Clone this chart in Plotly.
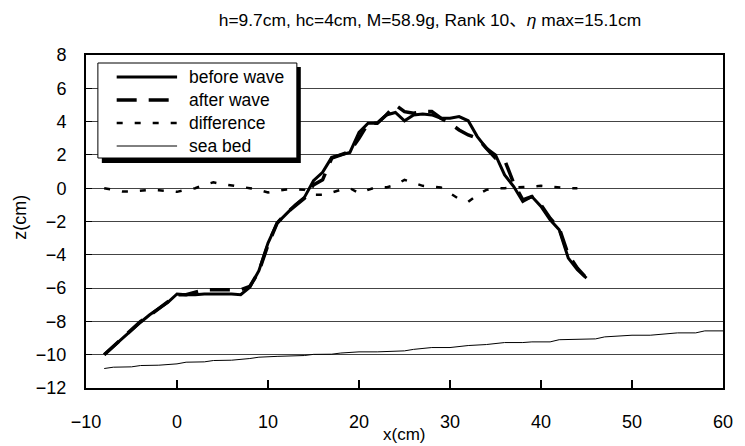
import plotly.graph_objects as go

# ---------------- data ----------------
x_profile = list(range(-8, 46))
before_wave = [-10.0, -9.5, -9.0, -8.5, -8.05, -7.6, -7.2, -6.85, -6.35, -6.4,
               -6.4, -6.35, -6.35, -6.35, -6.35, -6.4, -5.95, -4.95, -3.3, -2.1,
               -1.55, -1.0, -0.55, 0.45, 0.95, 1.85, 2.0, 2.15, 3.35, 3.9,
               3.9, 4.4, 4.55, 4.05, 4.4, 4.45, 4.4, 4.2, 4.2, 4.3,
               4.05, 3.1, 2.4, 2.0, 0.8, 0.1, -0.8, -0.5, -1.1, -1.9,
               -2.5, -4.2, -4.9, -5.4]
after_wave = [-10.0, -9.5, -9.0, -8.5, -8.0, -7.65, -7.25, -6.85, -6.4, -6.4,
              -6.25, -6.1, -6.1, -6.1, -6.1, -6.1, -5.9, -5.0, -3.4, -2.1,
              -1.5, -1.05, -0.6, 0.2, 0.5, 1.8, 2.0, 2.2, 3.0, 3.9,
              3.9, 4.4, 5.0, 4.6, 4.5, 4.6, 4.6, 4.2, 3.9, 3.5,
              3.2, 3.0, 2.4, 1.8, 1.7, 0.3, -0.7, -0.5, -1.0, -1.8,
              -2.4, -4.0, -4.8, -5.4]
x_diff = list(range(-8, 45))
difference = [0.0, -0.1, -0.2, -0.2, -0.15, -0.1, -0.12, -0.15, -0.22, -0.1,
              0.0, 0.2, 0.35, 0.25, 0.18, 0.1, 0.0, -0.1, -0.26, -0.15,
              -0.08, -0.07, -0.1, -0.4, -0.4, -0.26, -0.1, 0.0, -0.3, -0.1,
              0.08, 0.05, 0.2, 0.5, 0.3, 0.14, 0.1, 0.04, -0.3, -0.65,
              -0.82, -0.4, -0.1, 0.0, 0.0, 0.02, 0.04, 0.1, 0.14, 0.08,
              0.02, 0.0, 0.0]
x_seabed = [-8, -7, -5, -4, -2, 0, 1, 3, 4, 6, 8, 9, 11, 14, 15, 17, 18, 20, 22,
            25, 26, 28, 30, 32, 34, 36, 38, 39, 41, 42, 46, 47, 50, 52, 55, 57, 58, 60]
seabed = [-10.83, -10.75, -10.73, -10.65, -10.63, -10.55, -10.45, -10.43, -10.35,
          -10.33, -10.23, -10.15, -10.1, -10.05, -9.98, -9.97, -9.9, -9.83, -9.83,
          -9.77, -9.68, -9.57, -9.57, -9.45, -9.39, -9.27, -9.27, -9.23, -9.23,
          -9.1, -9.05, -8.93, -8.83, -8.83, -8.69, -8.69, -8.57, -8.57]

series_names = ["before wave", "after wave", "difference", "sea bed"]
x_ticks = [-10, 0, 10, 20, 30, 40, 50, 60]
y_ticks = [8, 6, 4, 2, 0, -2, -4, -6, -8, -10, -12]
title_text = "h=9.7cm, hc=4cm, M=58.9g, Rank 10、<i>η</i> max=15.1cm"

# ---------------- styles ----------------
FONT = "Liberation Sans, Arial, Noto Sans CJK JP, sans-serif"
styles = [dict(color="black", width=3, dash="solid"),
          dict(color="black", width=3.5, dash="20px,12px"),
          dict(color="black", width=2.5, dash="6px,12px"),
          dict(color="black", width=1, dash="solid")]

W, H = 745, 446
L, R, T, B = 86, 15.5, 55, 58
pw, ph = W - L - R, H - T - B

def px2paper(px, py):
    return (px - L) / pw, (H - B - py) / ph

fig = go.Figure()
fig.add_trace(go.Scatter(x=x_seabed, y=seabed, mode="lines", line=styles[3], name=series_names[3]))
fig.add_trace(go.Scatter(x=x_diff, y=difference, mode="lines", line=styles[2], name=series_names[2]))
fig.add_trace(go.Scatter(x=x_profile, y=after_wave, mode="lines", line=styles[1], name=series_names[1]))
fig.add_trace(go.Scatter(x=x_profile, y=before_wave, mode="lines", line=styles[0], name=series_names[0]))

shapes = []
annotations = []
# legend box with shadow
x0, y0 = px2paper(102, 163)
x1, y1 = px2paper(303, 67)
shapes.append(dict(type="rect", xref="paper", yref="paper", x0=x0, y0=y0, x1=x1, y1=y1,
                   fillcolor="black", line=dict(width=0), layer="above"))
x0, y0 = px2paper(98, 158)
x1, y1 = px2paper(299, 63)
shapes.append(dict(type="rect", xref="paper", yref="paper", x0=x0, y0=y0, x1=x1, y1=y1,
                   fillcolor="white", line=dict(color="black", width=1), layer="above"))
rows = [77, 100, 123, 146]
for name, st, ry in zip(series_names, styles, rows):
    lx0, ly = px2paper(117, ry)
    lx1, _ = px2paper(178, ry)
    shapes.append(dict(type="line", xref="paper", yref="paper", x0=lx0, x1=lx1, y0=ly, y1=ly,
                       line=st, layer="above"))
    tx, _ = px2paper(188, ry)
    annotations.append(dict(text=name, xref="paper", yref="paper", x=tx, y=ly, xanchor="left",
                            yanchor="middle", showarrow=False,
                            font=dict(family=FONT, size=17.5, color="black")))

# axis titles
ax, ay = px2paper(407, 434)
annotations.append(dict(text="x(cm)", xref="paper", yref="paper", x=ax, y=ay, xanchor="center",
                        yanchor="middle", showarrow=False, font=dict(family=FONT, size=17, color="black")))
ax, ay = px2paper(19, 217)
annotations.append(dict(text="z(cm)", xref="paper", yref="paper", x=ax, y=ay, xanchor="center",
                        yanchor="middle", textangle=-90, showarrow=False,
                        font=dict(family=FONT, size=18, color="black")))

fig.update_layout(
    width=W, height=H,
    margin=dict(l=L, r=R, t=T, b=B),
    paper_bgcolor="white", plot_bgcolor="white",
    showlegend=False,
    title=dict(text=title_text, x=(430 / W), xanchor="center", y=1 - 20 / H, yanchor="middle",
               font=dict(family=FONT, size=17.4, color="black")),
    shapes=shapes, annotations=annotations,
    xaxis=dict(range=[-10, 60], tickvals=x_ticks, ticks="inside", ticklen=8, tickwidth=1.5,
               tickcolor="black", showgrid=False, zeroline=False, showline=True, linecolor="black",
               linewidth=2, mirror=True, ticklabelstandoff=16,
               tickfont=dict(family=FONT, size=18, color="black")),
    yaxis=dict(range=[-12, 8], tickvals=y_ticks, ticks="inside", ticklen=6, tickcolor="black",
               showgrid=True, gridcolor="#444", gridwidth=1, zeroline=False, showline=True,
               linecolor="black", linewidth=2, mirror=True, ticklabelstandoff=14,
               tickfont=dict(family=FONT, size=18, color="black")),
)

fig.write_html("out.html")
